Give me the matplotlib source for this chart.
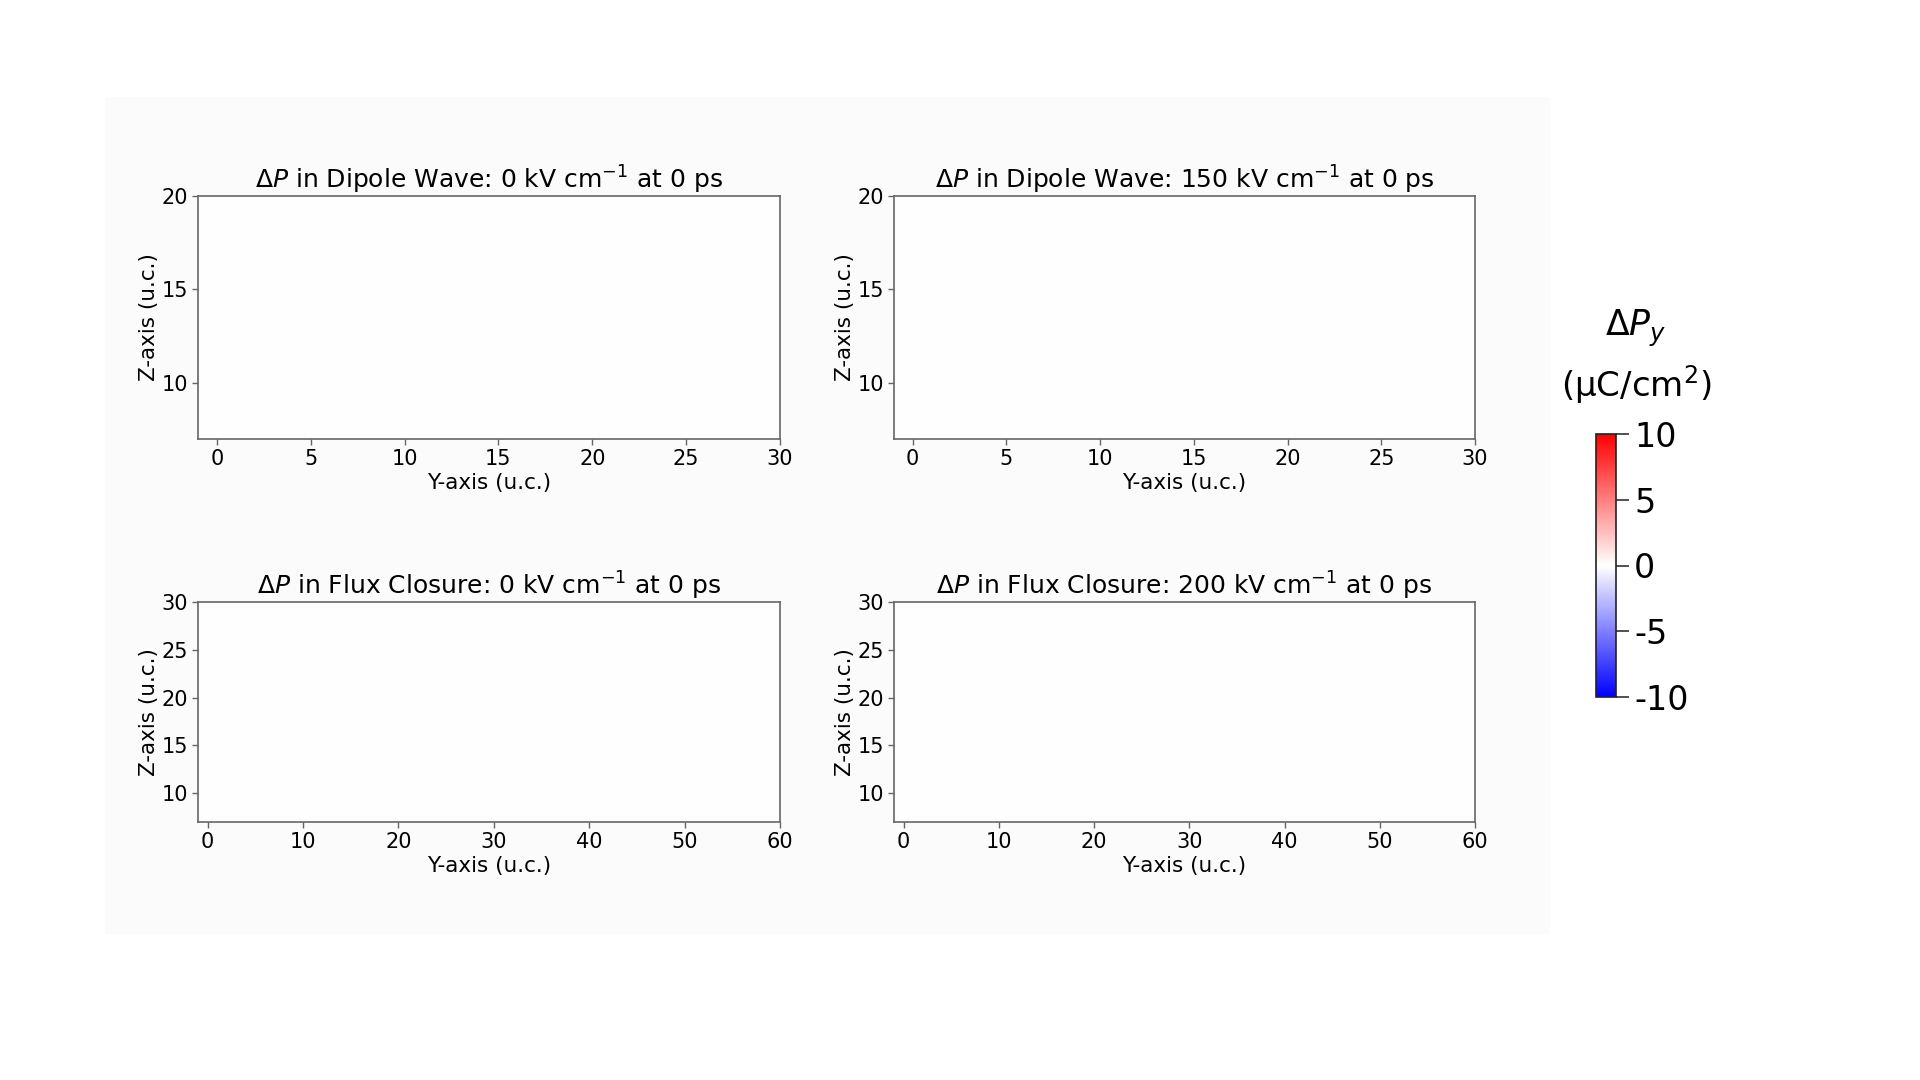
import numpy as np
import matplotlib
matplotlib.use("Agg")
import matplotlib.pyplot as plt
from matplotlib.patches import Rectangle

# ---- data -------------------------------------------------------------
titles = [
    r"$\Delta P$ in Dipole Wave: 0 kV cm$^{-1}$ at 0 ps",
    r"$\Delta P$ in Dipole Wave: 150 kV cm$^{-1}$ at 0 ps",
    r"$\Delta P$ in Flux Closure: 0 kV cm$^{-1}$ at 0 ps",
    r"$\Delta P$ in Flux Closure: 200 kV cm$^{-1}$ at 0 ps",
]
# cell edges (u.c.)
dipole_y_edges = np.arange(-1, 31)
dipole_z_edges = np.arange(7, 21)
flux_y_edges = np.arange(-1, 61)
flux_z_edges = np.arange(7, 31)
# Delta P_y at 0 ps: no change anywhere (all white)
dipole_0_kV = np.zeros((len(dipole_z_edges) - 1, len(dipole_y_edges) - 1))
dipole_150_kV = np.zeros((len(dipole_z_edges) - 1, len(dipole_y_edges) - 1))
flux_0_kV = np.zeros((len(flux_z_edges) - 1, len(flux_y_edges) - 1))
flux_200_kV = np.zeros((len(flux_z_edges) - 1, len(flux_y_edges) - 1))

dipole_xticks = [0, 5, 10, 15, 20, 25, 30]
dipole_yticks = [10, 15, 20]
flux_xticks = [0, 10, 20, 30, 40, 50, 60]
flux_yticks = [10, 15, 20, 25, 30]
cbar_ticks = [-10, -5, 0, 5, 10]
cbar_ticklabels = ["-10", "-5", "0", "5", "10"]
vmin, vmax = -10, 10

# ---- figure -----------------------------------------------------------
plt.rcParams["font.family"] = ["DejaVu Sans"]
plt.rcParams["mathtext.fontset"] = "dejavusans"

W, H = 1920, 1080
fig = plt.figure(figsize=(W / 100, H / 100), dpi=100, facecolor="white")

# faint background of the original figure area
fig.patches.append(Rectangle((105 / W, 1 - 934 / H), (1550 - 105) / W, (934 - 97) / H,
                             transform=fig.transFigure, facecolor="#fbfbfb",
                             edgecolor="none", zorder=-10))

def px_axes(l, t, r, b):
    return [l / W, 1 - b / H, (r - l) / W, (b - t) / H]

panels = [
    (px_axes(198, 196, 780, 439), dipole_y_edges, dipole_z_edges, dipole_0_kV, dipole_xticks, dipole_yticks),
    (px_axes(894, 196, 1475, 439), dipole_y_edges, dipole_z_edges, dipole_150_kV, dipole_xticks, dipole_yticks),
    (px_axes(198, 602, 780, 822), flux_y_edges, flux_z_edges, flux_0_kV, flux_xticks, flux_yticks),
    (px_axes(894, 602, 1475, 822), flux_y_edges, flux_z_edges, flux_200_kV, flux_xticks, flux_yticks),
]

spine_col = "#666666"
mesh = None
for i, (pos, ye, ze, vals, xt, yt) in enumerate(panels):
    ax = fig.add_axes(pos)
    mesh = ax.pcolormesh(ye, ze, vals, cmap="bwr", vmin=vmin, vmax=vmax, shading="flat")
    ax.set_xlim(ye[0], ye[-1])
    ax.set_ylim(ze[0], ze[-1])
    ax.set_xticks(xt)
    ax.set_yticks(yt)
    ax.tick_params(labelsize=15, color=spine_col, length=4, width=1, pad=3)
    for s in ax.spines.values():
        s.set_color(spine_col)
        s.set_linewidth(1.2)
    ax.set_title(titles[i], fontsize=18, pad=4)
    ax.set_xlabel("Y-axis (u.c.)", fontsize=15.5, labelpad=3)
    ax.set_ylabel("Z-axis (u.c.)", fontsize=15.5, labelpad=2)

# ---- colorbar ---------------------------------------------------------
cax = fig.add_axes(px_axes(1596, 434, 1616, 697))
cb = fig.colorbar(mesh, cax=cax, ticks=cbar_ticks)
cb.ax.set_yticklabels(cbar_ticklabels)
cb.ax.tick_params(labelsize=24, length=9, width=1.2, color="#333333", pad=4)
cb.outline.set_edgecolor("#222222")
cb.outline.set_linewidth(1.2)

fig.text(1636 / W, 1 - 328 / H, r"$\Delta P_y$", fontsize=25, ha="center", va="center")
fig.text(1636 / W, 1 - 385 / H, r"(μC/cm$^2$)", fontsize=24.5, ha="center", va="center")

fig.savefig("out.png", dpi=100, facecolor="white")
